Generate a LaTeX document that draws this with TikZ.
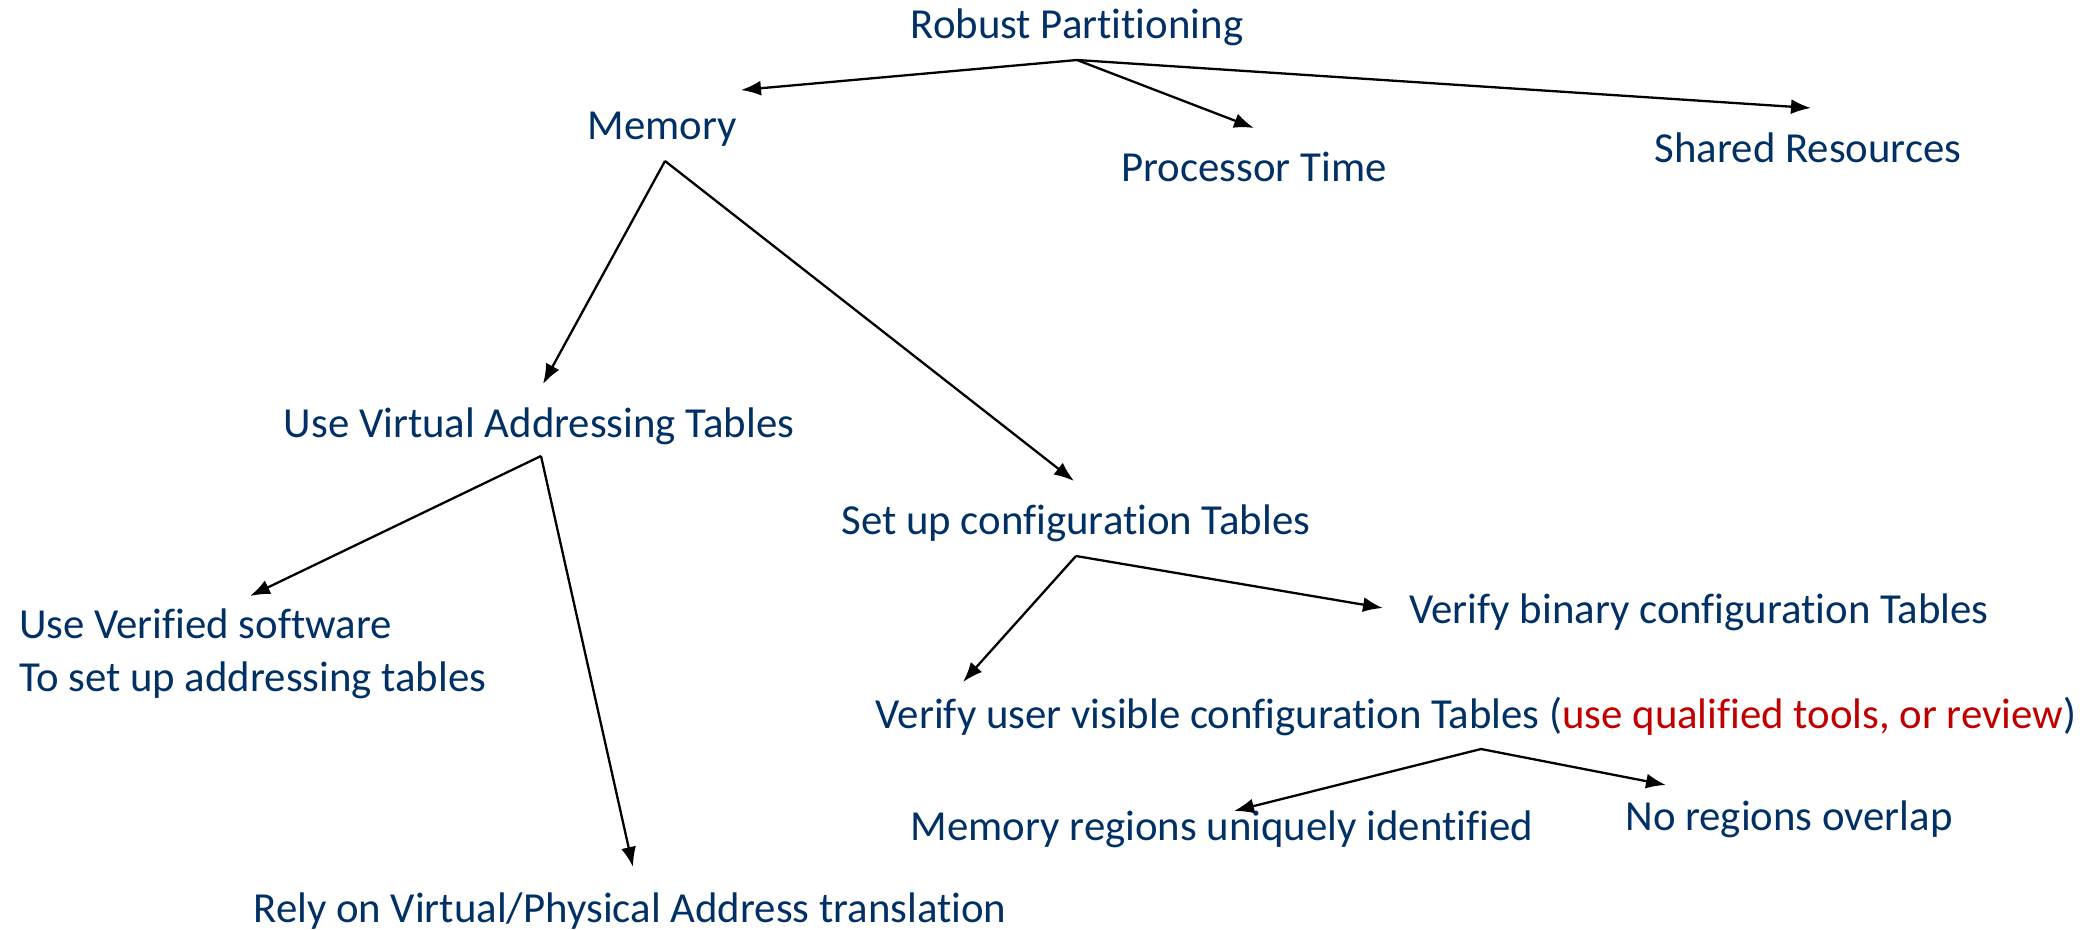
\documentclass[tikz,border=0pt]{standalone}
\usepackage{fontspec}
\setmainfont[Ligatures=NoCommon]{Carlito}
\usetikzlibrary{arrows.meta}
\definecolor{txtblue}{RGB}{0,48,100}
\definecolor{txtred}{RGB}{192,0,0}
\tikzset{
  lbl/.style={text=txtblue, inner sep=0pt, font=\fontsize{42.8}{53}\selectfont},
  arr/.style={draw=black, line width=2.3pt, -{Latex[length=20pt,width=15pt]}}
}
\begin{document}
\begin{tikzpicture}[x=1pt,y=-1pt]
\useasboundingbox (0,0) rectangle (2085,929);
\node[lbl] (root) at (1077,27) {Robust Partitioning};
\node[lbl] (mem) at (662,129) {Memory};
\node[lbl] (proc) at (1254,167) {Processor Time};
\node[lbl] (shared) at (1808,148) {Shared Resources};
\node[lbl] (uvat) at (539,426) {Use Virtual Addressing Tables};
\node[lbl] (setup) at (1076,523) {Set up configuration Tables};
\node[lbl, anchor=west, align=left] (uvs) at (19,654) {Use Verified software\\To set up addressing tables};
\node[lbl] (vbin) at (1699,612) {Verify binary configuration Tables};
\node[lbl] (vuser) at (1476,717) {Verify user visible configuration Tables (\textcolor{txtred}{use qualified tools, or review})};
\node[lbl] (mrui) at (1222,829) {Memory regions uniquely identified};
\node[lbl] (nro) at (1789,819) {No regions overlap};
\node[lbl] (rely) at (630,911) {Rely on Virtual/Physical Address translation};
% connector points
\coordinate (rootS) at (1077,60);
\coordinate (memIn) at (741,90);
\coordinate (procIn) at (1254,128);
\coordinate (sharedIn) at (1811,108);
\coordinate (memS) at (665,161);
\coordinate (uvatIn) at (543,384);
\coordinate (setupIn) at (1074,481);
\coordinate (uvatS) at (541,456);
\coordinate (uvsIn) at (250,596);
\coordinate (relyIn) at (633,867);
\coordinate (setupS) at (1076,556);
\coordinate (vuserIn) at (963,682);
\coordinate (vbinIn) at (1383,608);
\coordinate (vuserS) at (1481,749);
\coordinate (mruiIn) at (1234,811);
\coordinate (nroIn) at (1666,785);
\draw[arr] (rootS) -- (memIn);
\draw[arr] (rootS) -- (procIn);
\draw[arr] (rootS) -- (sharedIn);
\draw[arr] (memS) -- (uvatIn);
\draw[arr] (memS) -- (setupIn);
\draw[arr] (uvatS) -- (uvsIn);
\draw[arr] (uvatS) -- (relyIn);
\draw[arr] (setupS) -- (vuserIn);
\draw[arr] (setupS) -- (vbinIn);
\draw[arr] (vuserS) -- (mruiIn);
\draw[arr] (vuserS) -- (nroIn);
\end{tikzpicture}
\end{document}
